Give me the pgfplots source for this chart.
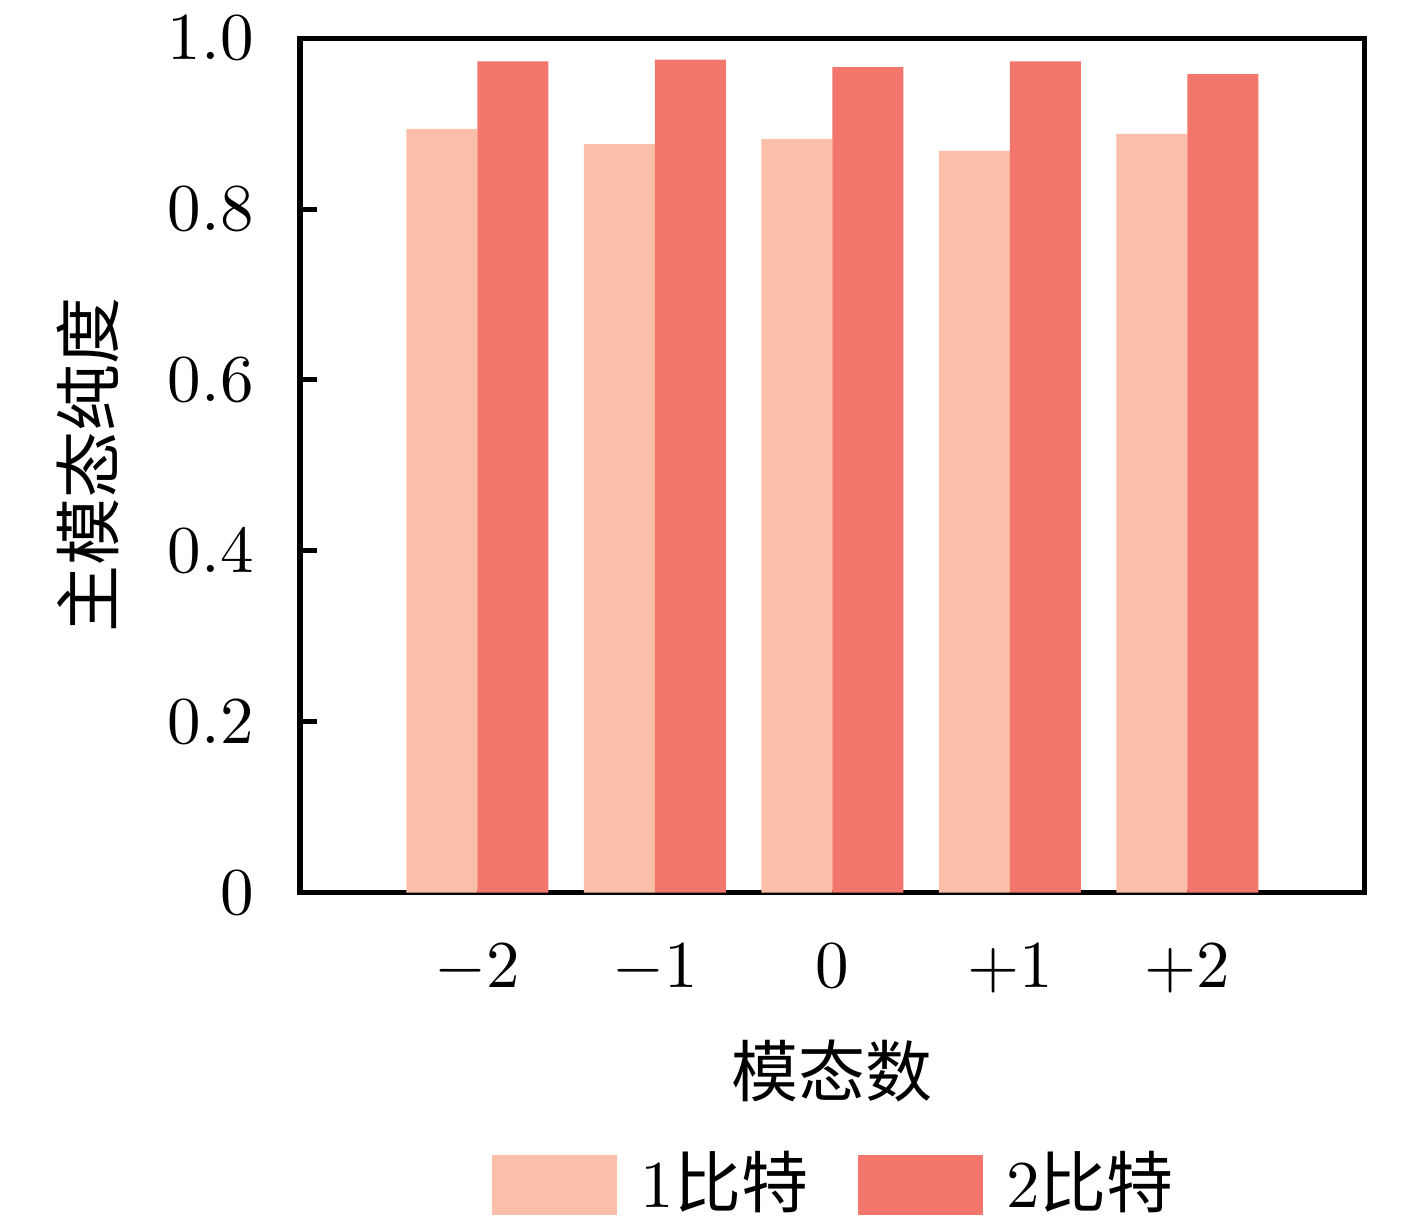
\documentclass[border=0pt]{standalone}
\usepackage{fontspec}
\usepackage{pgfplots}
\pgfplotsset{compat=1.18}
\newfontfamily\cjk{Noto Sans CJK SC}
\definecolor{lightc}{HTML}{FBBEA8}
\definecolor{darkc}{HTML}{F2766B}
\pgfplotsset{mylegend/.style={legend image code/.code={\fill[##1, draw=none] (0pt,-4.5pt) rectangle (18.7pt,4.5pt);}}}
\begin{document}
\begin{tikzpicture}
\begin{axis}[
  name=ax,
  width=159pt, height=127.6pt, scale only axis,
  xmin=-1, xmax=5, ymin=0, ymax=1,
  axis line style={line width=0.75pt},
  xtick={0,1,2,3,4},
  xticklabels={$-2$,$-1$,$0$,$+1$,$+2$},
  x tick style={draw=none},
  x tick label style={yshift=-4.2pt},
  ytick={0,0.2,0.4,0.6,0.8,1.0},
  yticklabels={0,0.2,0.4,0.6,0.8,1.0},
  y tick label style={inner ysep=1pt, xshift=-3.4pt},
  ytick pos=left,
  y tick style={line width=0.75pt, black},
  major tick length=2.6pt,
  tick align=inside,
  xlabel={\cjk 模态数},
  x label style={at={(axis description cs:0.5,0)}, yshift=-26.7pt, anchor=center},
  ylabel={\cjk 主模态纯度},
  y label style={at={(axis description cs:-0.199,0.5)}, anchor=center},
  legend style={at={(axis description cs:0.5,0)}, yshift=-43.6pt, xshift=1.1pt, anchor=center, draw=none, inner sep=0pt, legend columns=2,
    /tikz/every odd column/.append style={column sep=1.5pt},
    /tikz/every even column/.append style={column sep=5.4pt}},
  legend cell align=left,
]
\addplot[ybar, bar width=0.4, bar shift=-0.2, fill=lightc, draw=none, mylegend] coordinates {
  (0,0.894) (1,0.876) (2,0.882) (3,0.868) (4,0.888)};
\addlegendentry{1{\cjk 比特}}
\addplot[ybar, bar width=0.4, bar shift=0.2, fill=darkc, draw=none, mylegend] coordinates {
  (0,0.973) (1,0.975) (2,0.966) (3,0.973) (4,0.958)};
\addlegendentry{2{\cjk 比特}}
\end{axis}
\path (ax.south west) ++(-44.8pt,-49.3pt);
\path (ax.north east) ++(7.8pt,5.7pt);
\end{tikzpicture}
\end{document}
